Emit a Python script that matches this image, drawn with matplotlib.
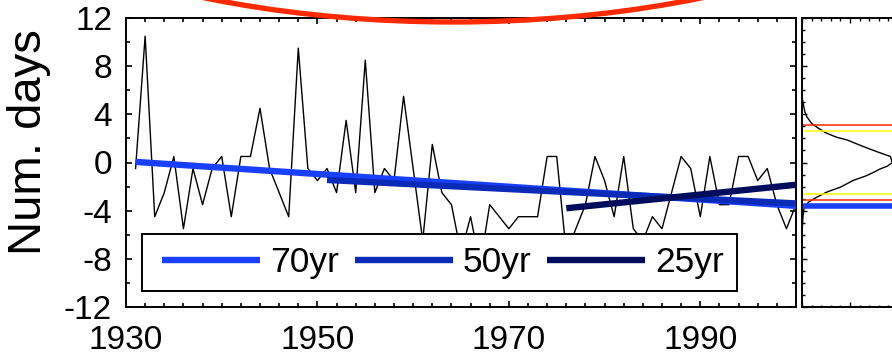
import matplotlib
matplotlib.use('Agg')
import matplotlib.pyplot as plt
from matplotlib.patches import Ellipse, Rectangle
from matplotlib.ticker import MultipleLocator, FixedLocator

plt.rcParams['font.family'] = ['Liberation Sans', 'DejaVu Sans']
plt.rcParams['axes.unicode_minus'] = False

# yearly anomaly (days), 1931-2000
years = list(range(1931, 2001))
days = [-0.5, 10.5, -4.5, -2.5, 0.5, -5.5, -0.5, -3.5, -0.5, 0.5,
        -4.5, 0.5, 0.5, 4.5, -0.5, -2.5, -4.5, 9.5, -0.5, -1.5,
        -0.5, -2.5, 3.5, -2.5, 8.5, -2.5, -0.5, -1.5, 5.5, -0.5,
        -6.5, 1.5, -2.5, -3.5, -7.5, -4.5, -8.5, -3.5, -4.5, -5.5,
        -4.5, -4.5, -4.5, 0.5, 0.5, -7.5, -5.5, -3.5, 0.5, -1.5,
        -4.5, 0.5, -5.5, -6.5, -4.5, -5.5, -2.5, 0.5, -0.5, -4.5,
        0.5, -3.5, -3.5, 0.5, 0.5, -1.5, -0.5, -3.5, -5.5, -3.5]
year_ticks = [1930, 1950, 1970, 1990]
day_ticks = [-12, -8, -4, 0, 4, 8, 12]

# linear trends: label, start/end year, start/end value
trend_labels = ['70yr', '50yr', '25yr']
trend_years = [(1931, 2000), (1951, 2000), (1976, 2000)]
trend_vals = [(0.05, -3.6), (-1.45, -3.4), (-3.8, -1.85)]
trend_colors = ['#1a40ff', '#0a2ab8', '#000c5c']

# distribution of trends (side panel)
dist_vals = [5.6, 5.0, 4.6, 4.2, 3.8, 3.25, 2.85, 2.42, 2.1, 1.87, 1.45,
             1.2, 0.9, 0.5, 0.0, -0.3, -0.55, -0.8, -1.1, -1.5, -2.05,
             -2.45, -2.9, -3.3, -3.85, -4.5, -5.2, -6.0]
dist_dens = [0.000, 0.001, 0.002, 0.003, 0.005, 0.010, 0.017, 0.026, 0.036,
             0.047, 0.060, 0.068, 0.078, 0.092, 0.094, 0.089, 0.081, 0.075,
             0.067, 0.053, 0.040, 0.026, 0.015, 0.0066, 0.002, 0.001, 0.0005, 0.0]
red_levels = [3.15, -3.15]
yellow_levels = [2.65, -2.65]
expected_level = -3.65

W, H = 892, 357
fig = plt.figure(figsize=(W / 100, H / 100), dpi=100)

ax = fig.add_axes([126 / W, 50 / H, 670 / W, 289 / H])
ax.plot(years, days, color='black', lw=1.0, zorder=2)
for lab, (y0, y1), (v0, v1), c in zip(trend_labels, trend_years, trend_vals, trend_colors):
    ax.plot([y0, y1], [v0, v1], color=c, lw=4.6, solid_capstyle='butt', label=lab, zorder=3)

ax.set_xlim(1930, 2000)
ax.set_ylim(-12, 12)
ax.xaxis.set_major_locator(FixedLocator(year_ticks))
ax.xaxis.set_minor_locator(MultipleLocator(2))
ax.yaxis.set_major_locator(FixedLocator(day_ticks))
ax.yaxis.set_minor_locator(MultipleLocator(2))
ax.tick_params(which='both', direction='in', top=True, right=True, width=1.2, labelsize=24)
ax.tick_params(which='major', length=4.5)
ax.tick_params(which='minor', length=2.6)
ax.tick_params(axis='x', pad=13)
ax.tick_params(axis='y', pad=10)
for s in ax.spines.values():
    s.set_linewidth(1.4)
ax.set_ylabel('Num. days', fontsize=34)
ax.yaxis.set_label_coords(-0.112, 0.569)

# legend box: white panel with the entries laid over it
ax.add_patch(Rectangle((0.024, 0.055), 0.888, 0.197, transform=ax.transAxes,
                       facecolor='white', edgecolor='black', lw=1.4, zorder=4))
leg = ax.legend(loc='center left', bbox_to_anchor=(0.054, 0.154), ncol=3, fontsize=25.5,
                handlelength=2.77, handletextpad=0.28, columnspacing=0.44,
                borderpad=0, borderaxespad=0, frameon=False)
leg.set_zorder(5)

# side panel with the trend distribution
ax2 = fig.add_axes([802 / W, 50 / H, 192 / W, 289 / H])
ax2.plot(dist_dens, dist_vals, color='black', lw=1.0)
for v in red_levels:
    ax2.axhline(v, color='#ff2a00', lw=1.1)
for v in yellow_levels:
    ax2.axhline(v, color='#ffff00', lw=1.1)
ax2.axhline(expected_level, color=trend_colors[0], lw=4.0)
ax2.set_xlim(0, 0.2)
ax2.set_ylim(-12, 12)
ax2.xaxis.set_major_locator(MultipleLocator(0.05))
ax2.xaxis.set_minor_locator(MultipleLocator(0.01))
ax2.yaxis.set_major_locator(MultipleLocator(4))
ax2.yaxis.set_minor_locator(MultipleLocator(1))
ax2.tick_params(which='both', direction='in', top=True, right=True, width=1.0,
                labelbottom=False, labelleft=False)
ax2.tick_params(which='major', length=3.5)
ax2.tick_params(which='minor', length=1.8)
for s in ax2.spines.values():
    s.set_linewidth(1.4)

# red highlight ring above the panel
over = fig.add_axes([0, 0, 1, 1], facecolor='none')
over.set_xlim(0, W)
over.set_ylim(H, 0)
over.axis('off')
over.add_patch(Ellipse((453, 22 - 250), 1160, 500, fill=False, edgecolor='#ff2a00', lw=3.8))

fig.savefig('out.png', dpi=100)
